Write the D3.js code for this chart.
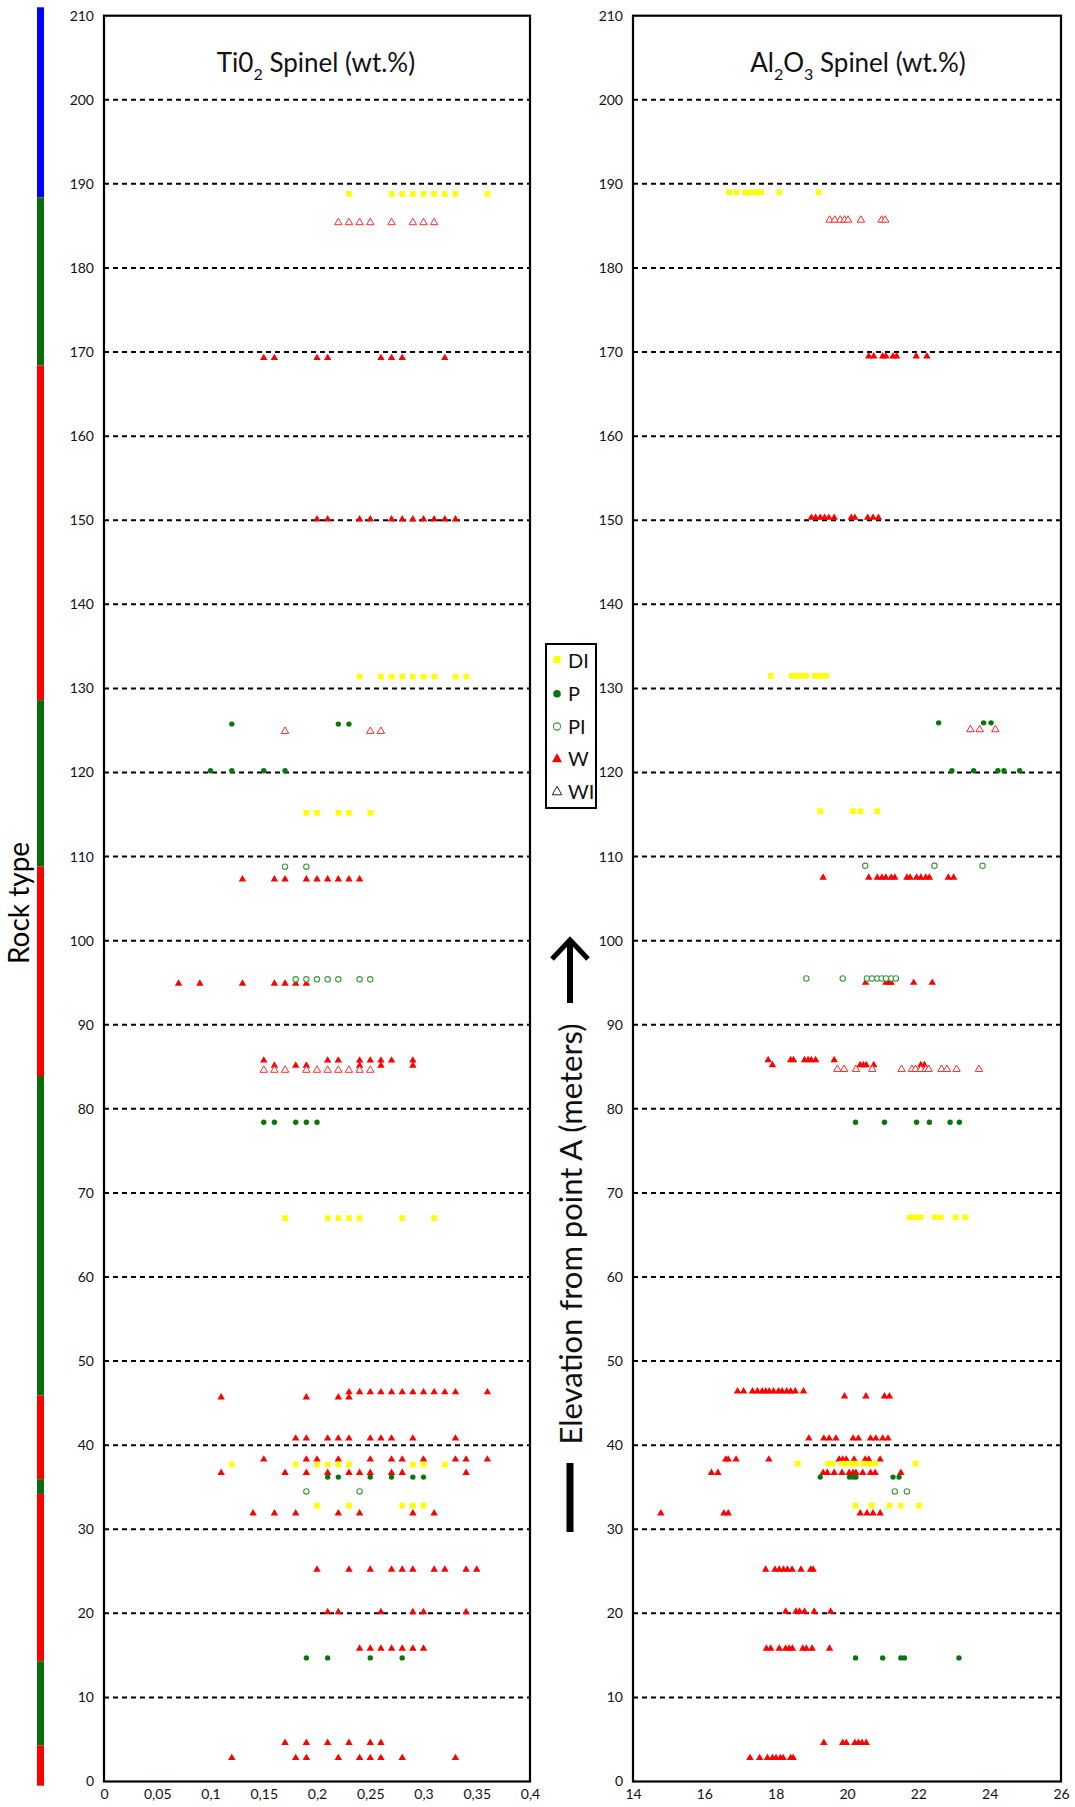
<!DOCTYPE html>
<html><head><meta charset="utf-8">
<script src="https://cdn.jsdelivr.net/npm/d3@7"></script>
<style>body{margin:0;background:#fff}svg{display:block}</style>
</head><body><svg id="c" width="1075" height="1807"></svg>
<script>
// ---------- axis ticks ----------
const elevTicks = d3.range(0, 211, 10);
const gridTicks = d3.range(10, 201, 10);
const tiTicks = [0, 0.05, 0.1, 0.15, 0.2, 0.25, 0.3, 0.35, 0.4];
const tiTickLabels = ["0", "0,05", "0,1", "0,15", "0,2", "0,25", "0,3", "0,35", "0,4"];
const alTicks = [14, 16, 18, 20, 22, 24, 26];
const alTickLabels = ["14", "16", "18", "20", "22", "24", "26"];

// ---------- rock type column (elevation ranges) ----------
const rockFrom = [188.4, 168.4, 128.6, 108.8, 83.9, 45.9, 35.95, 34.2, 14.3, 4.3, -0.5];
const rockTo   = [211,   188.4, 168.4, 128.6, 108.8, 83.9, 45.9, 35.95, 34.2, 14.3, 4.3];
const rockKind = ["B", "G", "R", "G", "R", "G", "R", "G", "R", "G", "R"];

// ---------- TiO2 spinel (wt.%) : rows of {e: elevation, v: values} ----------
const tiDI = [
  {e: 188.8, v: [0.23, 0.27, 0.28, 0.29, 0.30, 0.31, 0.32, 0.33, 0.36]},
  {e: 131.4, v: [0.24, 0.26, 0.27, 0.28, 0.29, 0.30, 0.31, 0.33, 0.34]},
  {e: 115.2, v: [0.19, 0.20, 0.22, 0.23, 0.25]},
  {e: 67.0,  v: [0.17, 0.21, 0.22, 0.23, 0.24, 0.28, 0.31]},
  {e: 37.7,  v: [0.12, 0.18, 0.20, 0.21, 0.22, 0.23, 0.29, 0.30, 0.32]},
  {e: 32.8,  v: [0.20, 0.23, 0.28, 0.29, 0.30]}
];
const tiP = [
  {e: 125.75, v: [0.12, 0.22, 0.23]},
  {e: 120.2,  v: [0.10, 0.12, 0.15, 0.17]},
  {e: 78.4,   v: [0.15, 0.16, 0.18, 0.19, 0.20]},
  {e: 36.2,   v: [0.21, 0.22, 0.25, 0.27, 0.29, 0.30]},
  {e: 14.7,   v: [0.19, 0.21, 0.25, 0.28]}
];
const tiPI = [
  {e: 108.8, v: [0.17, 0.19]},
  {e: 95.4,  v: [0.18, 0.19, 0.20, 0.21, 0.22, 0.24, 0.25]},
  {e: 34.5,  v: [0.19, 0.24]}
];
const tiW = [
  {e: 169.3, v: [0.15, 0.16, 0.20, 0.21, 0.26, 0.27, 0.28, 0.32]},
  {e: 150.1, v: [0.20, 0.21, 0.24, 0.25, 0.27, 0.28, 0.29, 0.30, 0.31, 0.32, 0.33]},
  {e: 107.3, v: [0.13, 0.16, 0.17, 0.19, 0.20, 0.21, 0.22, 0.23, 0.24]},
  {e: 94.9,  v: [0.07, 0.09, 0.13, 0.16, 0.17, 0.18, 0.19]},
  {e: 85.75, v: [0.15, 0.21, 0.22, 0.24, 0.25, 0.26, 0.27, 0.29]},
  {e: 85.15, v: [0.16, 0.18, 0.19, 0.24, 0.26, 0.29]},
  {e: 46.3,  v: [0.23, 0.24, 0.25, 0.26, 0.27, 0.28, 0.29, 0.30, 0.31, 0.32, 0.33, 0.36]},
  {e: 45.7,  v: [0.11, 0.19, 0.22, 0.23]},
  {e: 40.8,  v: [0.18, 0.19, 0.21, 0.22, 0.23, 0.25, 0.26, 0.27, 0.29, 0.33]},
  {e: 38.3,  v: [0.15, 0.19, 0.20, 0.22, 0.25, 0.27, 0.28, 0.30, 0.33, 0.34, 0.36]},
  {e: 36.7,  v: [0.11, 0.17, 0.19, 0.21, 0.23, 0.24, 0.25, 0.27, 0.28, 0.34]},
  {e: 31.9,  v: [0.14, 0.16, 0.18, 0.22, 0.24, 0.29, 0.31]},
  {e: 25.2,  v: [0.20, 0.23, 0.25, 0.27, 0.28, 0.29, 0.31, 0.32, 0.34, 0.35]},
  {e: 20.15, v: [0.21, 0.22, 0.26, 0.29, 0.30, 0.34]},
  {e: 15.8,  v: [0.24, 0.25, 0.26, 0.27, 0.28, 0.29, 0.30]},
  {e: 4.6,   v: [0.17, 0.19, 0.21, 0.23, 0.25, 0.26]},
  {e: 2.8,   v: [0.12, 0.18, 0.19, 0.22, 0.24, 0.25, 0.26, 0.28, 0.33]}
];
const tiWI = [
  {e: 185.4, v: [0.22, 0.23, 0.24, 0.25, 0.27, 0.29, 0.30, 0.31]},
  {e: 124.9, v: [0.17, 0.25, 0.26]},
  {e: 84.6,  v: [0.15, 0.16, 0.17, 0.19, 0.20, 0.21, 0.22, 0.23, 0.24, 0.25]}
];

// ---------- Al2O3 spinel (wt.%) ----------
const alDI = [
  {e: 189.0, v: [16.7, 16.9, 17.15, 17.3, 17.45, 17.6, 18.1, 19.2]},
  {e: 131.5, v: [17.86, 18.45, 18.6, 18.75, 18.85, 19.1, 19.2, 19.3, 19.42]},
  {e: 115.4, v: [19.25, 20.17, 20.38, 20.85]},
  {e: 67.1,  v: [21.76, 21.9, 22.07, 22.45, 22.63, 23.04, 23.31]},
  {e: 37.8,  v: [18.62, 19.47, 19.6, 19.86, 19.98, 20.15, 20.27, 20.47, 20.61, 20.79, 21.92]},
  {e: 32.8,  v: [20.24, 20.69, 21.19, 21.51, 22.02]}
];
const alP = [
  {e: 125.9, v: [22.57, 23.83, 24.04]},
  {e: 120.2, v: [22.94, 23.55, 24.23, 24.4, 24.84]},
  {e: 78.4,  v: [20.24, 21.05, 21.95, 22.31, 22.89, 23.15]},
  {e: 36.2,  v: [19.25, 20.07, 20.17, 20.25, 21.29, 21.46]},
  {e: 14.7,  v: [20.24, 21.0, 21.51, 21.61, 23.14]}
];
const alPI = [
  {e: 108.9, v: [20.51, 22.45, 23.8]},
  {e: 95.5,  v: [18.86, 19.88, 20.56, 20.7, 20.85, 20.97, 21.09, 21.24, 21.37]},
  {e: 34.5,  v: [21.34, 21.68]}
];
const alW = [
  {e: 169.5, v: [20.61, 20.75, 21.0, 21.09, 21.29, 21.39, 21.94, 22.24]},
  {e: 150.3, v: [19.0, 19.12, 19.25, 19.37, 19.49, 19.64, 20.12, 20.22, 20.58, 20.73, 20.88]},
  {e: 107.5, v: [19.33, 20.61, 20.85, 20.98, 21.09, 21.24, 21.34, 21.68, 21.77, 21.95, 22.07, 22.21, 22.31, 22.84, 22.99]},
  {e: 95.0,  v: [20.52, 21.09, 21.19, 21.24, 21.87, 22.39]},
  {e: 85.8,  v: [17.79, 18.42, 18.5, 18.81, 18.91, 19.0, 19.12, 19.64]},
  {e: 85.2,  v: [17.91, 20.37, 20.46, 20.54, 20.75, 22.07, 22.17]},
  {e: 46.4,  v: [16.93, 17.1, 17.35, 17.49, 17.62, 17.72, 17.82, 17.94, 18.08, 18.18, 18.31, 18.42, 18.55, 18.78]},
  {e: 45.8,  v: [19.93, 20.53, 21.05, 21.19]},
  {e: 40.8,  v: [18.93, 19.35, 19.5, 19.69, 20.17, 20.32, 20.66, 20.81, 21.0, 21.15]},
  {e: 38.3,  v: [16.6, 16.67, 16.89, 17.81, 19.78, 19.88, 19.98, 20.2, 20.51, 20.61, 20.93]},
  {e: 36.7,  v: [16.2, 16.38, 19.33, 19.45, 19.64, 19.86, 20.06, 20.17, 20.25, 20.44, 20.66, 20.79, 21.51]},
  {e: 31.9,  v: [14.78, 16.55, 16.67, 20.37, 20.56, 20.73, 20.93]},
  {e: 25.2,  v: [17.72, 17.98, 18.1, 18.22, 18.33, 18.46, 18.71, 18.98, 19.05]},
  {e: 20.2,  v: [18.28, 18.57, 18.67, 18.81, 19.08, 19.54]},
  {e: 15.8,  v: [17.74, 17.86, 18.1, 18.28, 18.38, 18.47, 18.76, 18.86, 19.02, 19.51]},
  {e: 4.6,   v: [19.35, 19.88, 19.98, 20.22, 20.32, 20.42, 20.54]},
  {e: 2.8,   v: [17.28, 17.55, 17.77, 17.91, 18.01, 18.13, 18.21, 18.42, 18.49]}
];
const alWI = [
  {e: 185.7, v: [19.51, 19.66, 19.81, 19.93, 20.03, 20.39, 20.97, 21.07]},
  {e: 125.1, v: [23.46, 23.72, 24.16]},
  {e: 84.7,  v: [19.73, 19.92, 20.25, 20.71, 21.53, 21.82, 21.92, 22.07, 22.21, 22.29, 22.65, 22.8, 23.07, 23.7]}
];

const legendNames = ["DI", "P", "PI", "W", "WI"];

// ---------- drawing ----------
const FONT = "Lato, 'Open Sans', sans-serif";
const svg = d3.select("#c");
const y = d3.scaleLinear().domain([0, 210]).range([1781.5, 15.7]);
const rockColor = {B: "#0000ff", G: "#0b6a0b", R: "#ff0000"};

// rock type column
svg.append("g").selectAll("rect").data(rockKind).join("rect")
  .attr("x", 37).attr("width", 7)
  .attr("y", (d, i) => y(rockTo[i]))
  .attr("height", (d, i) => y(rockFrom[i]) - y(rockTo[i]))
  .attr("fill", d => rockColor[d]);

svg.append("text").attr("transform", "translate(29,903) rotate(-90)")
  .attr("text-anchor", "middle").attr("font-family", FONT).attr("font-size", 28)
  .text("Rock type");

const flat = rows => rows.flatMap(r => r.v.map(v => ({x: v, e: r.e})));
const triPath = d3.symbol(d3.symbolTriangle, 24)();
const sqPath = d3.symbol(d3.symbolSquare, 32)();

function panel(x, ticks, tickLabels, series, titleParts, titleX) {
  const g = svg.append("g");
  const [x0, x1] = x.range();
  // grid
  g.append("g").selectAll("line").data(gridTicks).join("line")
    .attr("x1", x0).attr("x2", x1).attr("y1", d => y(d)).attr("y2", d => y(d))
    .attr("stroke", "#000").attr("stroke-width", 2).attr("stroke-dasharray", "5,4");
  // frame
  g.append("rect").attr("x", x0).attr("y", y(210)).attr("width", x1 - x0).attr("height", y(0) - y(210))
    .attr("fill", "none").attr("stroke", "#000").attr("stroke-width", 2.2);
  // y labels
  const yAxis = d3.axisLeft(y).tickValues(elevTicks).tickSize(0).tickPadding(10);
  const ya = g.append("g").attr("transform", `translate(${x0},0)`).call(yAxis);
  ya.select(".domain").remove();
  ya.selectAll("text").attr("font-family", FONT).attr("font-size", 14).attr("fill", "#111");
  // x labels
  const xAxis = d3.axisBottom(x).tickValues(ticks).tickFormat((d, i) => tickLabels[i]).tickSize(0).tickPadding(8);
  const xa = g.append("g").attr("transform", `translate(0,${y(0)})`).call(xAxis);
  xa.select(".domain").remove();
  xa.selectAll("text").attr("font-family", FONT).attr("font-size", 14).attr("fill", "#111");
  // title
  const t = g.append("text").attr("x", titleX).attr("y", 72).attr("text-anchor", "middle")
    .attr("font-family", FONT).attr("font-size", 26).attr("fill", "#111");
  titleParts.forEach(p => {
    const ts = t.append("tspan").text(p.t);
    if (p.sub) ts.attr("font-size", 16).attr("dy", 8);
    else if (p.after) ts.attr("dy", -8);
  });
  // points
  const [DI, P, PI, W, WI] = series;
  g.append("g").selectAll("path").data(flat(W)).join("path")
    .attr("d", triPath).attr("transform", d => `translate(${x(d.x)},${y(d.e)})`).attr("fill", "#ff0000");
  g.append("g").selectAll("path").data(flat(WI)).join("path")
    .attr("d", triPath).attr("transform", d => `translate(${x(d.x)},${y(d.e)})`)
    .attr("fill", "#fff").attr("stroke", "#ff2a2a").attr("stroke-width", 1);
  g.append("g").selectAll("circle").data(flat(PI)).join("circle")
    .attr("cx", d => x(d.x)).attr("cy", d => y(d.e)).attr("r", 2.7)
    .attr("fill", "#fff").attr("stroke", "#3a9a3a").attr("stroke-width", 1.1);
  g.append("g").selectAll("circle").data(flat(P)).join("circle")
    .attr("cx", d => x(d.x)).attr("cy", d => y(d.e)).attr("r", 2.7).attr("fill", "#0a760a");
  g.append("g").selectAll("path").data(flat(DI)).join("path")
    .attr("d", sqPath).attr("transform", d => `translate(${x(d.x)},${y(d.e)})`).attr("fill", "#ffff00");
}

const xTi = d3.scaleLinear().domain([0, 0.4]).range([104, 530]);
const xAl = d3.scaleLinear().domain([14, 26]).range([633, 1061]);

panel(xTi, tiTicks, tiTickLabels, [tiDI, tiP, tiPI, tiW, tiWI],
  [{t: "Ti0"}, {t: "2", sub: true}, {t: " Spinel (wt.%)", after: true}], 316);
panel(xAl, alTicks, alTickLabels, [alDI, alP, alPI, alW, alWI],
  [{t: "Al"}, {t: "2", sub: true}, {t: "O", after: true}, {t: "3", sub: true}, {t: " Spinel (wt.%)", after: true}], 858);

// legend
const lg = svg.append("g");
lg.append("rect").attr("x", 546).attr("y", 644).attr("width", 50).attr("height", 164)
  .attr("fill", "#fff").attr("stroke", "#000").attr("stroke-width", 2);
const legY = d3.scalePoint().domain(legendNames).range([661, 792]);
const ls = lg.selectAll("g.e").data(legendNames).join("g").attr("class", "e")
  .attr("transform", d => `translate(557,${legY(d)})`);
ls.append("text").attr("x", 11).attr("dy", "0.36em").attr("font-family", FONT).attr("font-size", 20)
  .attr("fill", "#111").text(d => d);
ls.filter(d => d === "DI").append("rect").attr("x", -3.5).attr("y", -5).attr("width", 7).attr("height", 7).attr("fill", "#ffff00");
ls.filter(d => d === "P").append("circle").attr("r", 3.8).attr("fill", "#0a760a");
ls.filter(d => d === "PI").append("circle").attr("r", 3.6).attr("fill", "none").attr("stroke", "#3a9a3a").attr("stroke-width", 1.1);
ls.filter(d => d === "W").append("path").attr("d", d3.symbol(d3.symbolTriangle, 45)()).attr("fill", "#ff0000");
ls.filter(d => d === "WI").append("path").attr("d", d3.symbol(d3.symbolTriangle, 40)()).attr("fill", "none").attr("stroke", "#222").attr("stroke-width", 1);

// elevation label with arrow
svg.append("text").attr("transform", "translate(582,1234) rotate(-90)")
  .attr("text-anchor", "middle").attr("font-family", FONT).attr("font-size", 31)
  .attr("fill", "#111").text("Elevation from point A (meters)");
svg.append("line").attr("x1", 570).attr("x2", 570).attr("y1", 1463).attr("y2", 1532)
  .attr("stroke", "#000").attr("stroke-width", 7);
svg.append("line").attr("x1", 570).attr("x2", 570).attr("y1", 1003).attr("y2", 942)
  .attr("stroke", "#000").attr("stroke-width", 6);
svg.append("path").attr("d", "M552,959 L570,940 L588,959").attr("fill", "none")
  .attr("stroke", "#000").attr("stroke-width", 5);
</script>
</body></html>
